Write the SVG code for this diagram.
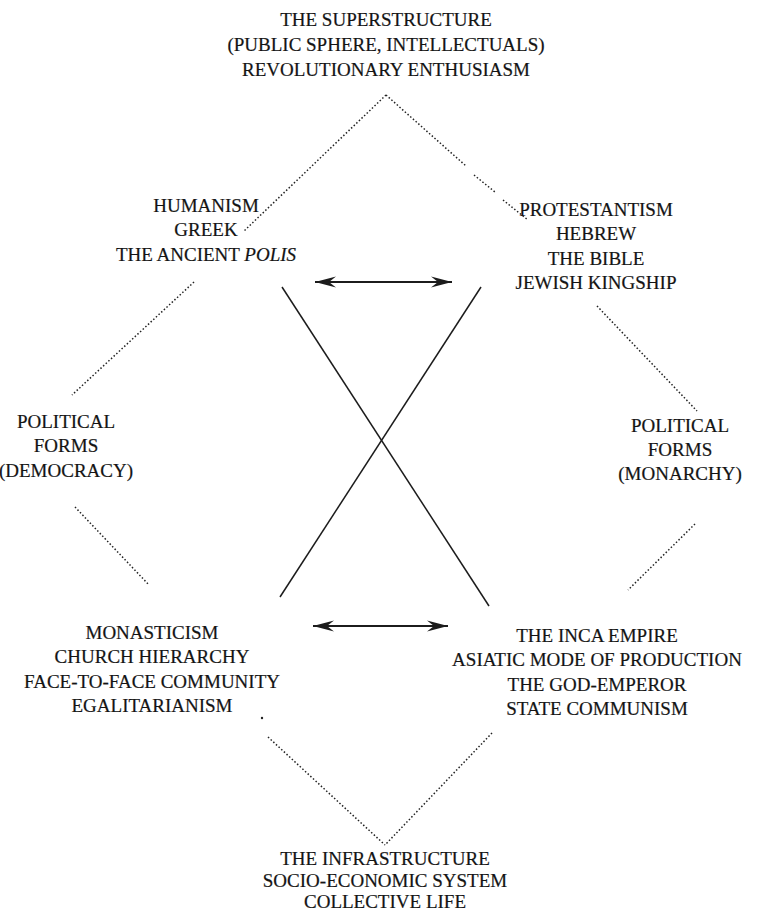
<svg xmlns="http://www.w3.org/2000/svg" width="766" height="913" viewBox="0 0 766 913">
  <defs>
    <style>
      .lbl { font-family: "Liberation Serif", "Times New Roman", serif; font-size: 19px; fill: #141414; stroke: #141414; stroke-width: 0.2; text-anchor: middle; }
      .dot { fill: none; stroke: #222222; stroke-width: 1.5; stroke-dasharray: 1.5 2.1; }
      .solid { fill: none; stroke: #1c1c1c; stroke-width: 1.5; }
      .arrow { fill: none; stroke: #1c1c1c; stroke-width: 1.8; marker-start: url(#barb); marker-end: url(#barb); }
    </style>
    <marker id="barb" markerUnits="userSpaceOnUse" viewBox="-22 -7 24 14" refX="0" refY="0" markerWidth="24" markerHeight="14" orient="auto-start-reverse">
      <path d="M0,0 L-21,-5.5 L-14,0 L-21,5.5 Z" fill="#1c1c1c"/>
    </marker>
  </defs>
  <rect width="766" height="913" fill="#ffffff"/>

  <g id="superstructure">
    <text class="lbl" x="386" y="26">THE SUPERSTRUCTURE</text>
    <text class="lbl" x="386" y="51">(PUBLIC SPHERE, INTELLECTUALS)</text>
    <text class="lbl" x="386" y="76">REVOLUTIONARY ENTHUSIASM</text>
  </g>

  <g id="humanism">
    <text class="lbl" x="206" y="212">HUMANISM</text>
    <text class="lbl" x="206" y="236">GREEK</text>
    <text class="lbl" x="206" y="261">THE ANCIENT <tspan font-style="italic">POLIS</tspan></text>
  </g>

  <g id="protestantism">
    <text class="lbl" x="596" y="216">PROTESTANTISM</text>
    <text class="lbl" x="596" y="240">HEBREW</text>
    <text class="lbl" x="596" y="265">THE BIBLE</text>
    <text class="lbl" x="596" y="289">JEWISH KINGSHIP</text>
  </g>

  <g id="democracy">
    <text class="lbl" x="66" y="428">POLITICAL</text>
    <text class="lbl" x="66" y="452">FORMS</text>
    <text class="lbl" x="66" y="477">(DEMOCRACY)</text>
  </g>

  <g id="monarchy">
    <text class="lbl" x="680" y="432">POLITICAL</text>
    <text class="lbl" x="680" y="456">FORMS</text>
    <text class="lbl" x="680" y="480">(MONARCHY)</text>
  </g>

  <g id="monasticism">
    <text class="lbl" x="152" y="639">MONASTICISM</text>
    <text class="lbl" x="152" y="663">CHURCH HIERARCHY</text>
    <text class="lbl" x="152" y="688">FACE-TO-FACE COMMUNITY</text>
    <text class="lbl" x="152" y="712">EGALITARIANISM</text>
  </g>

  <g id="inca">
    <text class="lbl" x="597" y="642">THE INCA EMPIRE</text>
    <text class="lbl" x="597" y="666">ASIATIC MODE OF PRODUCTION</text>
    <text class="lbl" x="597" y="691">THE GOD-EMPEROR</text>
    <text class="lbl" x="597" y="715">STATE COMMUNISM</text>
  </g>

  <g id="infrastructure">
    <text class="lbl" x="385" y="865">THE INFRASTRUCTURE</text>
    <text class="lbl" x="385" y="887">SOCIO-ECONOMIC SYSTEM</text>
    <text class="lbl" x="385" y="908">COLLECTIVE LIFE</text>
  </g>

  <g id="connectors">
    <!-- upper diamond -->
    <path class="dot" d="M386,95 L243,232"/>
    <path class="dot" d="M386,95 L466,166 M474,175 L495,192 M503,200 L528,220"/>
    <!-- sides -->
    <path class="dot" d="M194,282 L72,395"/>
    <path class="dot" d="M597,306 L697,411"/>
    <path class="dot" d="M75,507 L149,585"/>
    <path class="dot" d="M695,524 L628,590"/>
    <!-- lower diamond -->
    <path class="dot" d="M268,737 L385,845"/>
    <path class="dot" d="M492,733 L385,845"/>
    <circle cx="262" cy="718" r="1.2" fill="#222222"/>
    <!-- crossing lines -->
    <path class="solid" d="M282,287 L489,606"/>
    <path class="solid" d="M481,287 L280,597"/>
    <!-- double-headed arrows -->
    <path class="arrow" d="M315,282 L452,282"/>
    <path class="arrow" d="M313,626 L448,626"/>
  </g>
</svg>
